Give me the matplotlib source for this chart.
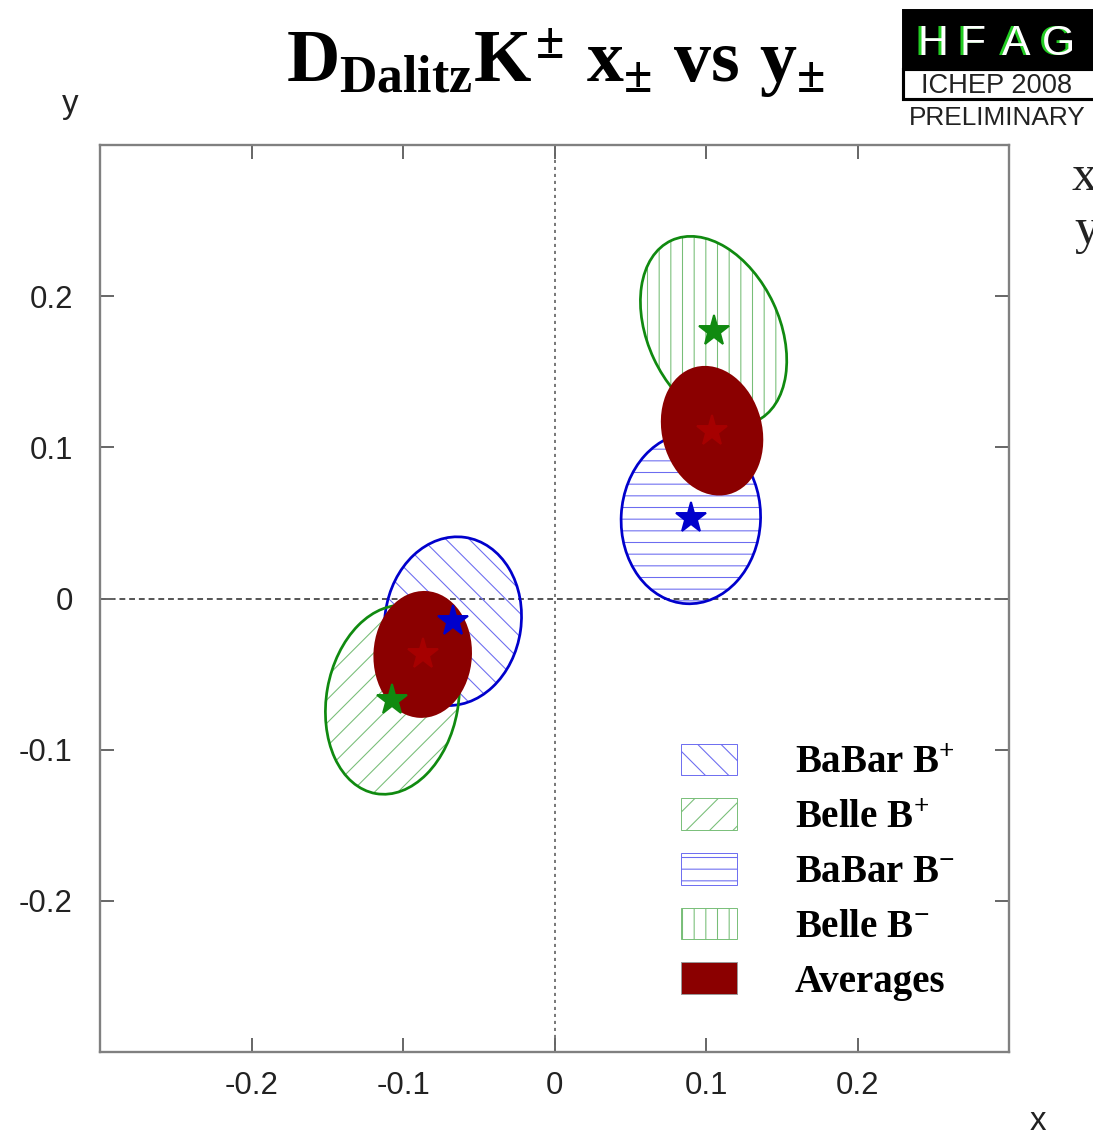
import matplotlib
matplotlib.use('Agg')
from matplotlib import pyplot as plt
from matplotlib.patches import Ellipse, Patch, Rectangle

plt.rcParams['mathtext.fontset'] = 'custom'
plt.rcParams['mathtext.rm'] = 'Liberation Serif:bold'
plt.rcParams['mathtext.it'] = 'Liberation Serif:bold'
plt.rcParams['mathtext.bf'] = 'Liberation Serif:bold'
plt.rcParams['hatch.linewidth'] = 0.55

# contour centres (x, y), full widths/heights and tilt (deg) of each 1-sigma ellipse
names = ['BaBar B+', 'Belle B+', 'Average B+', 'BaBar B-', 'Belle B-', 'Average B-']
cx = [-0.067, -0.107, -0.087, 0.090, 0.105, 0.104]
cy = [-0.015, -0.067, -0.037, 0.053, 0.177, 0.111]
width = [0.090, 0.087, 0.065, 0.092, 0.087, 0.066]
height = [0.112, 0.126, 0.084, 0.113, 0.132, 0.087]
angle = [-8, -10, -3, -3, 25, 15]

legend_labels = ['BaBar B$^{+}$', 'Belle B$^{+}$', 'BaBar B$^{-}$', 'Belle B$^{-}$', 'Averages']
ticks = [-0.2, -0.1, 0, 0.1, 0.2]
tick_labels = ['-0.2', '-0.1', '0', '0.1', '0.2']

blue = '#0000cc'
green = '#108a10'
blue_hatch = '#6c6cf0'
green_hatch = '#78be78'
avg_red = '#8b0000'
star_red = '#a60000'

style = {
    'BaBar B+': (blue, blue_hatch, '\\\\'),
    'Belle B+': (green, green_hatch, '//'),
    'BaBar B-': (blue, blue_hatch, '--'),
    'Belle B-': (green, green_hatch, '||'),
}

W, H = 1093, 1136
dpi = 140
fig = plt.figure(figsize=(W / dpi, H / dpi), dpi=dpi)
ax = fig.add_axes([100 / W, 1 - 1052 / H, 909 / W, 907 / H])

ax.set_xlim(-0.3, 0.3)
ax.set_ylim(-0.3, 0.3)

ax.axhline(0, color='#555555', lw=1.0, ls=(0, (3, 2)), zorder=1)
ax.axvline(0, color='#555555', lw=0.8, ls=(0, (2, 2.5)), zorder=1)

for i, name in enumerate(names):
    if name.startswith('Average'):
        ax.add_patch(Ellipse((cx[i], cy[i]), width[i], height[i], angle=angle[i],
                             facecolor=avg_red, edgecolor='none', zorder=4))
        continue
    edge, hcol, hatch = style[name]
    # hatch takes its colour from the edge, so outline is drawn separately
    ax.add_patch(Ellipse((cx[i], cy[i]), width[i], height[i], angle=angle[i],
                         facecolor='none', edgecolor=hcol, linewidth=0, hatch=hatch, zorder=2))
    ax.add_patch(Ellipse((cx[i], cy[i]), width[i], height[i], angle=angle[i],
                         facecolor='none', edgecolor=edge, linewidth=1.4, zorder=3))

for i, name in enumerate(names):
    if name.startswith('Average'):
        c = star_red
    elif name.startswith('BaBar'):
        c = blue
    else:
        c = green
    ax.plot(cx[i], cy[i], marker='*', ms=16, color=c, mec=c, zorder=5)

ax.set_xticks(ticks)
ax.set_xticklabels(tick_labels)
ax.set_yticks(ticks)
ax.set_yticklabels(tick_labels)
ax.tick_params(axis='both', direction='in', length=7, width=1.0, color='#666666',
               top=True, right=True, labelsize=16)
ax.tick_params(axis='x', pad=10)
ax.tick_params(axis='y', pad=14)
for lab in ax.get_xticklabels() + ax.get_yticklabels():
    lab.set_family('Liberation Sans')
    lab.set_color('#222222')
for sp in ax.spines.values():
    sp.set_color('#808080')
    sp.set_linewidth(1.2)

handles = [
    Patch(facecolor='white', edgecolor=blue_hatch, hatch='\\\\', linewidth=0.5),
    Patch(facecolor='white', edgecolor=green_hatch, hatch='//', linewidth=0.5),
    Patch(facecolor='white', edgecolor=blue_hatch, hatch='--', linewidth=0.5),
    Patch(facecolor='white', edgecolor=green_hatch, hatch='||', linewidth=0.5),
    Patch(facecolor=avg_red, edgecolor='#999999', linewidth=0.5),
]
ax.legend(handles, legend_labels, loc='upper left', bbox_to_anchor=(0.639, 0.34),
          frameon=False, borderpad=0, borderaxespad=0, handlelength=1.44, handleheight=0.88,
          labelspacing=0.42, handletextpad=1.49,
          prop={'family': 'Liberation Serif', 'weight': 'bold', 'size': 20})

# title
fig.text(556 / W, 1 - 82 / H, r'$D_{Dalitz}K^{\pm}\ x_{\pm}\ vs\ y_{\pm}$',
         ha='center', va='baseline', fontsize=38)

# axis names
fig.text(70 / W, 1 - 105 / H, 'y', ha='center', va='center', fontsize=17,
         family='Liberation Sans', color='#222222')
fig.text(1038 / W, 1 - 1122 / H, 'x', ha='center', va='center', fontsize=17,
         family='Liberation Sans', color='#222222')

# HFAG logo
fig.add_artist(Rectangle((903 / W, 1 - 69 / H), 200 / W, 59 / H, transform=fig.transFigure,
                         facecolor='black', edgecolor='black', lw=1))
fig.add_artist(Rectangle((903 / W, 1 - 99 / H), 200 / W, 30 / H, transform=fig.transFigure,
                         facecolor='white', edgecolor='black', lw=1.6))
for letter, px in zip('HFAG', [932, 972, 1016, 1058]):
    fig.text((px - 2.5) / W, 1 - 55 / H, letter, ha='center', va='baseline', fontsize=22,
             family='Liberation Sans', color='#22cc22')
    fig.text((px + 0.5) / W, 1 - 55 / H, letter, ha='center', va='baseline', fontsize=22,
             family='Liberation Sans', color='white')
fig.text(997 / W, 1 - 93 / H, 'ICHEP 2008', ha='center', va='baseline', fontsize=14,
         family='Liberation Sans', color='#222222')
fig.text(997 / W, 1 - 125 / H, 'PRELIMINARY', ha='center', va='baseline', fontsize=13.5,
         family='Liberation Sans', color='#222222')

# edge of the neighbouring panel text
fig.text(1071 / W, 1 - 190 / H, 'x', ha='left', va='baseline', fontsize=26,
         family='Liberation Serif', color='#222222')
fig.text(1074 / W, 1 - 243 / H, 'y', ha='left', va='baseline', fontsize=26,
         family='Liberation Serif', color='#222222')

fig.savefig('out.png', dpi=dpi)
